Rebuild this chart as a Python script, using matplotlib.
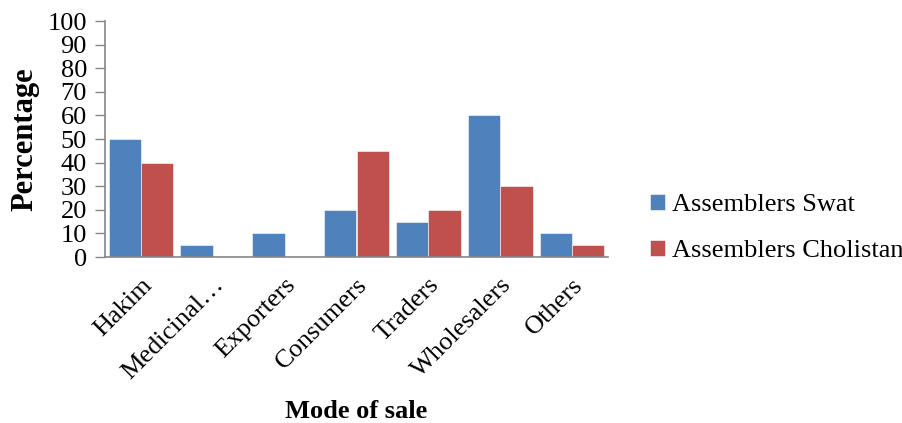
import matplotlib
matplotlib.use("Agg")
import matplotlib.pyplot as plt
import numpy as np

categories = ["Hakim", "Medicinal…", "Exporters", "Consumers", "Traders", "Wholesalers", "Others"]
swat = [50, 5, 10, 20, 15, 60, 10]
cholistan = [40, 0, 0, 45, 20, 30, 5]
series_names = ["Assemblers Swat", "Assemblers Cholistan"]
yticks = list(range(0, 101, 10))

plt.rcParams["font.family"] = ["Liberation Serif", "DejaVu Serif"]

fig = plt.figure(figsize=(9.02, 4.23), dpi=100)
ax = fig.add_axes([105 / 902, 1 - 257 / 423, (608 - 105) / 902, (257 - 21) / 423])

x = np.arange(len(categories))
w = 0.45
ax.bar(x - w / 2, swat, width=w, color="#4F81BD", edgecolor="white", linewidth=0.4,
       label=series_names[0])
ax.bar(x + w / 2, cholistan, width=w, color="#C0504D", edgecolor="white", linewidth=0.4,
       label=series_names[1])

ax.set_xlim(-0.5, len(categories) - 0.5)
ax.set_ylim(0, 100)
ax.set_yticks(yticks)
ax.set_yticklabels([str(t) for t in yticks], fontsize=19)
ax.tick_params(axis="y", direction="out", length=7, color="#868686", width=1, pad=6)
ax.set_xticks(x)
ax.set_xticklabels(categories, fontsize=19, rotation=45, ha="right", va="top",
                   rotation_mode="anchor")
ax.tick_params(axis="x", length=0, pad=12)

for s in ["top", "right"]:
    ax.spines[s].set_visible(False)
for s in ["left", "bottom"]:
    ax.spines[s].set_color("#868686")
    ax.spines[s].set_linewidth(1.2)

ax.set_ylabel("Percentage", fontsize=22, fontweight="bold", labelpad=6)
fig.text(356 / 902, 1 - 411 / 423, "Mode of sale", fontsize=19, fontweight="bold",
         ha="center", va="center")

fig.legend(loc="center left", bbox_to_anchor=(632 / 902, 1 - 228 / 423), frameon=False,
           fontsize=19, handlelength=0.55, handleheight=0.55, handletextpad=0.25,
           labelspacing=0.9, borderpad=0.2)

fig.savefig("out.png", dpi=100)
